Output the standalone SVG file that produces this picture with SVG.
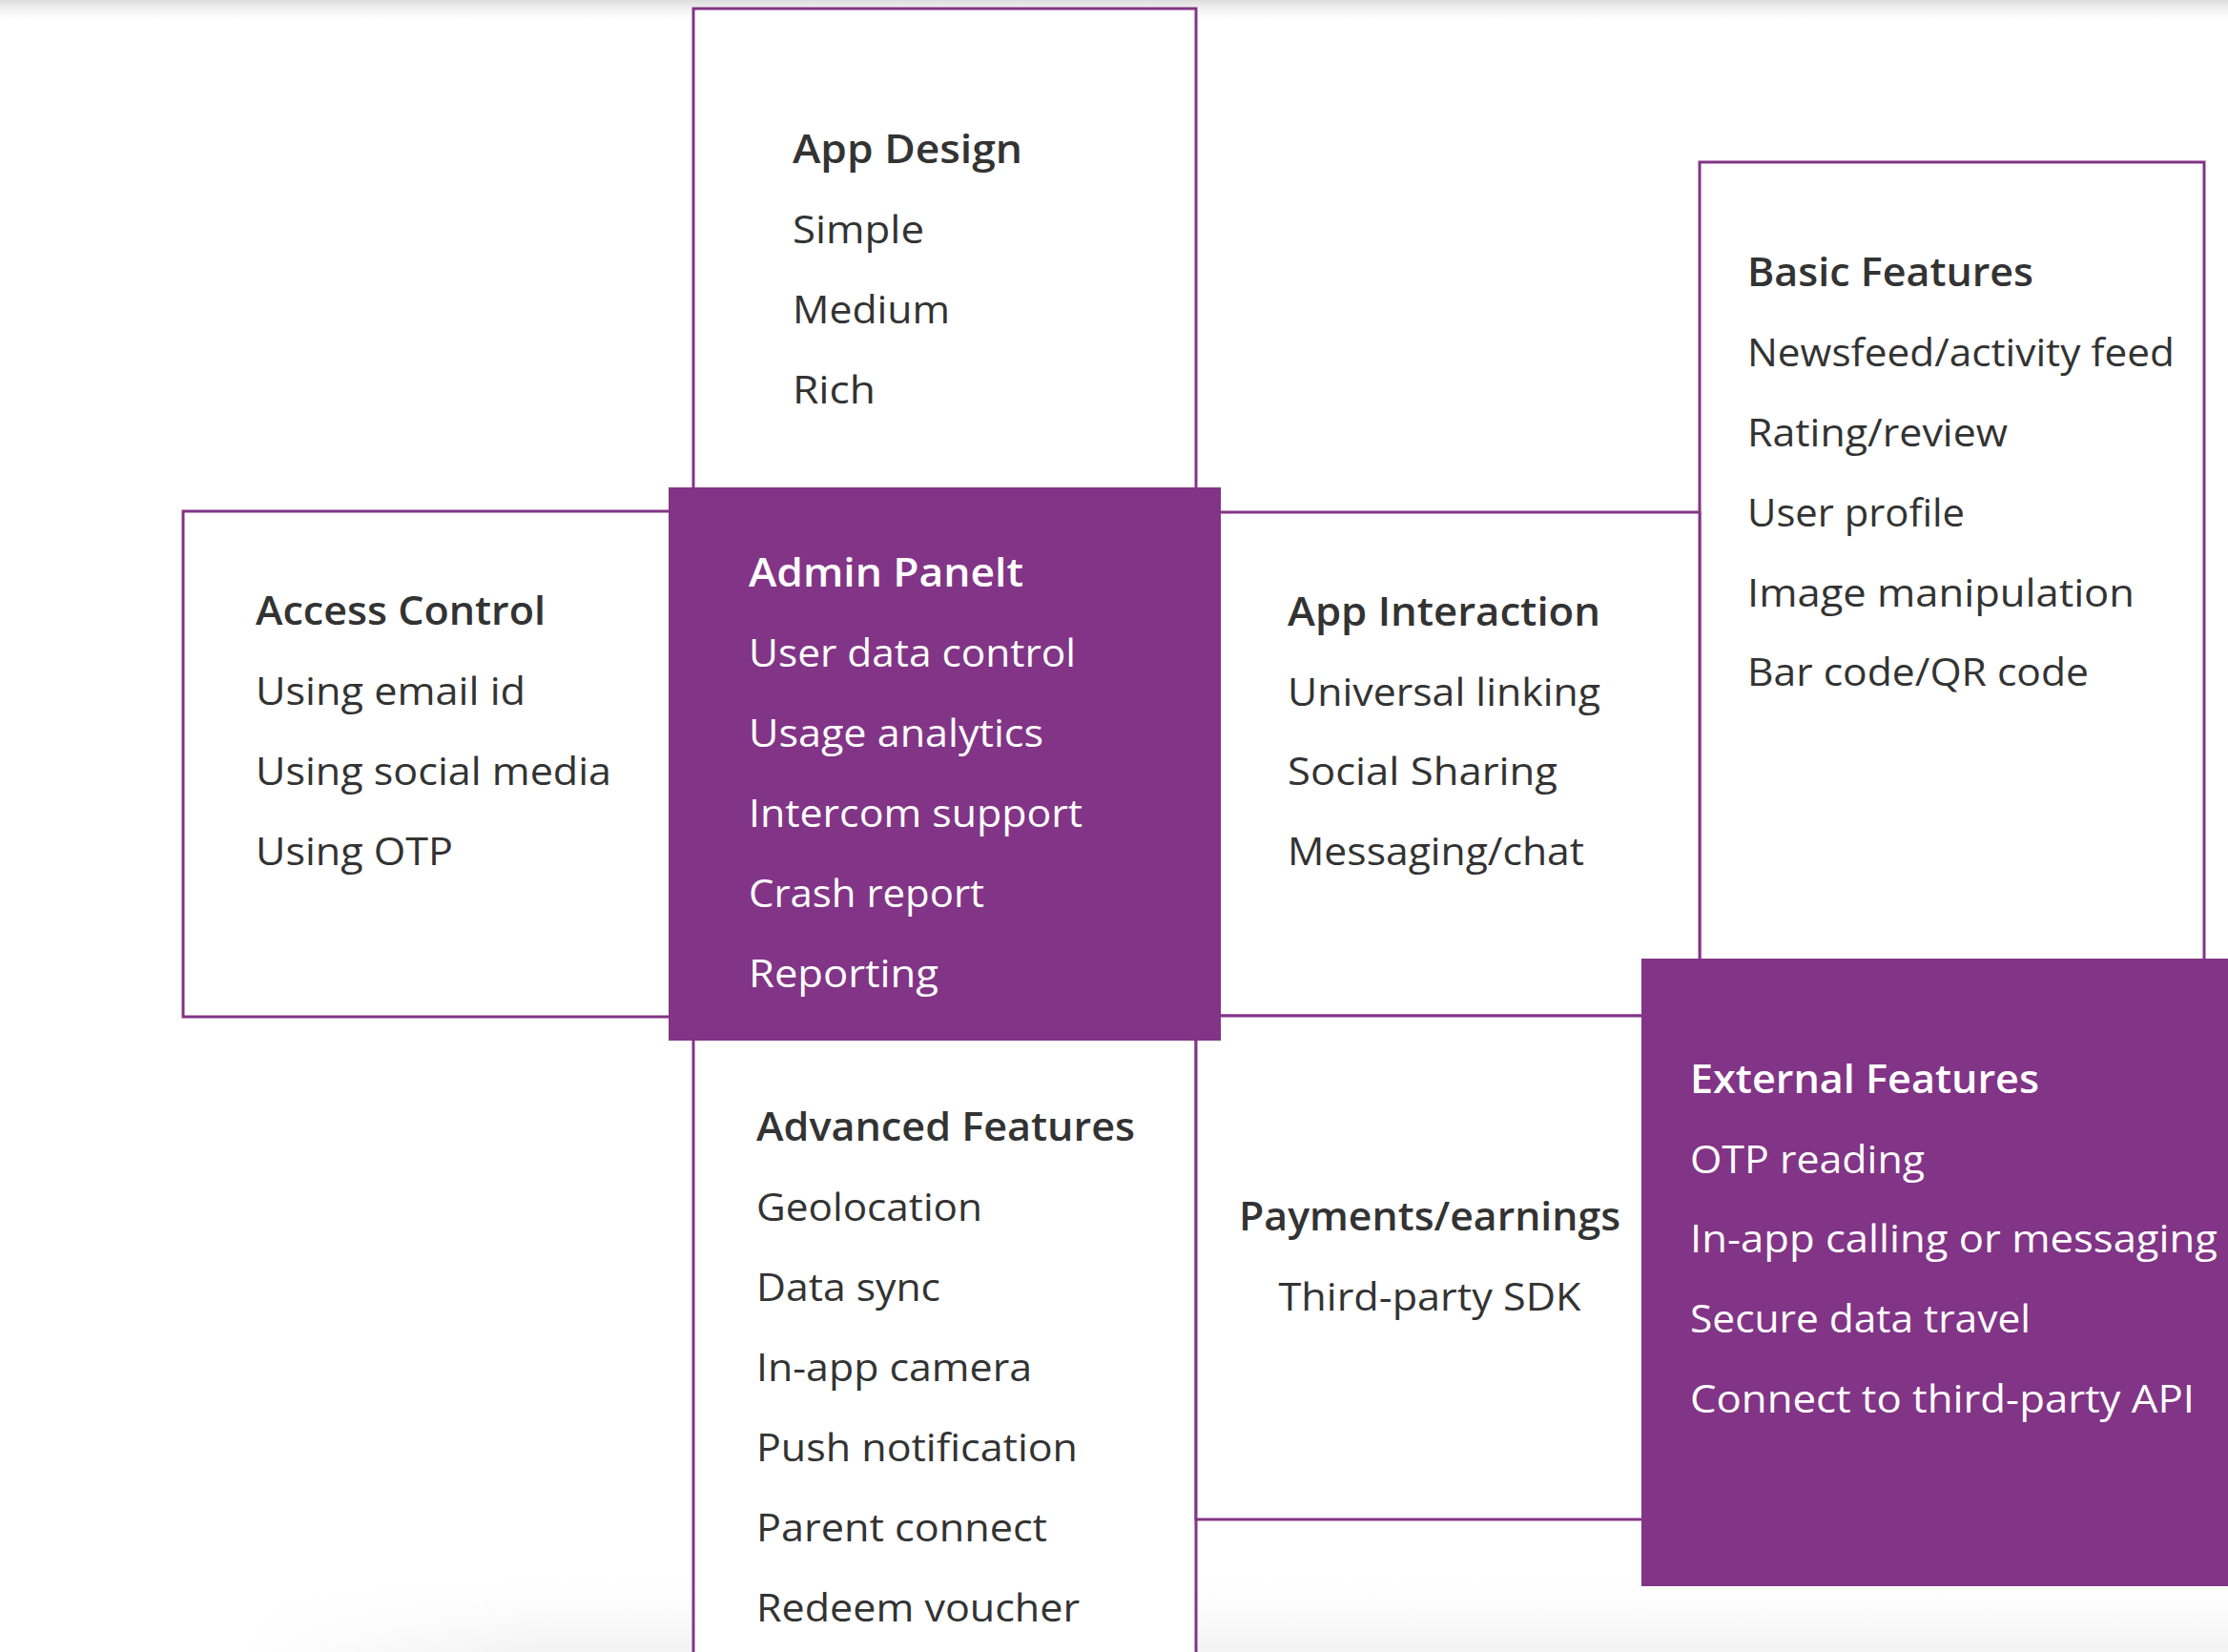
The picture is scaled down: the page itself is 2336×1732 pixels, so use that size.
<svg xmlns="http://www.w3.org/2000/svg" width="2336" height="1732" viewBox="0 0 2336 1732">
<defs>
<linearGradient id="topShade" x1="0" y1="0" x2="0" y2="1">
<stop offset="0" stop-color="#dcdcdc"/>
<stop offset="1" stop-color="#ffffff" stop-opacity="0"/>
</linearGradient>
<linearGradient id="botShade" x1="0" y1="0" x2="0" y2="1">
<stop offset="0" stop-color="#ffffff" stop-opacity="0"/>
<stop offset="1" stop-color="#f2f2f2"/>
</linearGradient>
<linearGradient id="hFade" x1="0" y1="0" x2="1" y2="0">
<stop offset="0" stop-color="#000000"/>
<stop offset="0.15" stop-color="#ffffff"/>
<stop offset="1" stop-color="#ffffff"/>
</linearGradient>
<mask id="botMask">
<rect x="250" y="1640" width="2086" height="92" fill="url(#hFade)"/>
</mask>
<style>
.box{fill:#ffffff;stroke:#823486;stroke-width:3}
.fill{fill:#823486;stroke:none}
.h{font-family:"Open Sans","Liberation Sans",sans-serif;font-size:41px;font-weight:600;fill:#333333}
.t{font-family:"Open Sans","Liberation Sans",sans-serif;font-size:41px;font-weight:400;fill:#333333}
.hw{font-family:"Open Sans","Liberation Sans",sans-serif;font-size:41px;font-weight:600;fill:#ffffff}
.tw{font-family:"Open Sans","Liberation Sans",sans-serif;font-size:41px;font-weight:400;fill:#ffffff}
</style>
</defs>
<rect x="0" y="0" width="2336" height="1732" fill="#ffffff"/>
<rect x="0" y="0" width="2336" height="26" fill="url(#topShade)"/>
<rect x="250" y="1640" width="2086" height="92" fill="url(#botShade)" mask="url(#botMask)"/>

<g id="app-design">
<rect class="box" x="727" y="9" width="527" height="530"/>
<text class="h" x="831" y="171" textLength="241" lengthAdjust="spacingAndGlyphs">App Design</text>
<text class="t" x="831" y="255" textLength="138" lengthAdjust="spacingAndGlyphs">Simple</text>
<text class="t" x="831" y="339" textLength="165" lengthAdjust="spacingAndGlyphs">Medium</text>
<text class="t" x="831" y="423" textLength="87" lengthAdjust="spacingAndGlyphs">Rich</text>
</g>

<g id="advanced-features">
<rect class="box" x="727" y="1080" width="527" height="700"/>
<text class="h" x="793" y="1196" textLength="397" lengthAdjust="spacingAndGlyphs">Advanced Features</text>
<text class="t" x="793" y="1280" textLength="237" lengthAdjust="spacingAndGlyphs">Geolocation</text>
<text class="t" x="793" y="1364" textLength="193" lengthAdjust="spacingAndGlyphs">Data sync</text>
<text class="t" x="793" y="1448" textLength="289" lengthAdjust="spacingAndGlyphs">In-app camera</text>
<text class="t" x="793" y="1532" textLength="337" lengthAdjust="spacingAndGlyphs">Push notification</text>
<text class="t" x="793" y="1616" textLength="305" lengthAdjust="spacingAndGlyphs">Parent connect</text>
<text class="t" x="793" y="1700" textLength="339" lengthAdjust="spacingAndGlyphs">Redeem voucher</text>
</g>

<g id="access-control">
<rect class="box" x="192" y="536" width="540" height="530"/>
<text class="h" x="268" y="655" textLength="304" lengthAdjust="spacingAndGlyphs">Access Control</text>
<text class="t" x="268" y="739" textLength="283" lengthAdjust="spacingAndGlyphs">Using email id</text>
<text class="t" x="268" y="823" textLength="373" lengthAdjust="spacingAndGlyphs">Using social media</text>
<text class="t" x="268" y="907" textLength="207" lengthAdjust="spacingAndGlyphs">Using OTP</text>
</g>

<g id="basic-features">
<rect class="box" x="1782" y="170" width="529" height="860"/>
<text class="h" x="1832" y="300" textLength="300" lengthAdjust="spacingAndGlyphs">Basic Features</text>
<text class="t" x="1832" y="384" textLength="448" lengthAdjust="spacingAndGlyphs">Newsfeed/activity feed</text>
<text class="t" x="1832" y="468" textLength="273" lengthAdjust="spacingAndGlyphs">Rating/review</text>
<text class="t" x="1832" y="552" textLength="228" lengthAdjust="spacingAndGlyphs">User profile</text>
<text class="t" x="1832" y="636" textLength="406" lengthAdjust="spacingAndGlyphs">Image manipulation</text>
<text class="t" x="1832" y="719" textLength="358" lengthAdjust="spacingAndGlyphs">Bar code/QR code</text>
</g>

<g id="app-interaction">
<rect class="box" x="1260" y="537" width="522" height="528"/>
<text class="h" x="1350" y="656" textLength="328" lengthAdjust="spacingAndGlyphs">App Interaction</text>
<text class="t" x="1350" y="740" textLength="328" lengthAdjust="spacingAndGlyphs">Universal linking</text>
<text class="t" x="1350" y="823" textLength="283" lengthAdjust="spacingAndGlyphs">Social Sharing</text>
<text class="t" x="1350" y="907" textLength="311" lengthAdjust="spacingAndGlyphs">Messaging/chat</text>
</g>

<g id="payments">
<rect class="box" x="1254" y="1065" width="480" height="528"/>
<text class="h" x="1499" y="1290" text-anchor="middle" textLength="400" lengthAdjust="spacingAndGlyphs">Payments/earnings</text>
<text class="t" x="1499" y="1374" text-anchor="middle" textLength="317" lengthAdjust="spacingAndGlyphs">Third-party SDK</text>
</g>

<g id="admin-panel">
<rect class="fill" x="701" y="511" width="579" height="580"/>
<text class="hw" x="785" y="615" textLength="288" lengthAdjust="spacingAndGlyphs">Admin Panelt</text>
<text class="tw" x="785" y="699" textLength="343" lengthAdjust="spacingAndGlyphs">User data control</text>
<text class="tw" x="785" y="783" textLength="309" lengthAdjust="spacingAndGlyphs">Usage analytics</text>
<text class="tw" x="785" y="867" textLength="350" lengthAdjust="spacingAndGlyphs">Intercom support</text>
<text class="tw" x="785" y="951" textLength="247" lengthAdjust="spacingAndGlyphs">Crash report</text>
<text class="tw" x="785" y="1035" textLength="199" lengthAdjust="spacingAndGlyphs">Reporting</text>
</g>

<g id="external-features">
<rect class="fill" x="1721" y="1005" width="615" height="658"/>
<text class="hw" x="1772" y="1146" textLength="366" lengthAdjust="spacingAndGlyphs">External Features</text>
<text class="tw" x="1772" y="1230" textLength="246" lengthAdjust="spacingAndGlyphs">OTP reading</text>
<text class="tw" x="1772" y="1313" textLength="553" lengthAdjust="spacingAndGlyphs">In-app calling or messaging</text>
<text class="tw" x="1772" y="1397" textLength="357" lengthAdjust="spacingAndGlyphs">Secure data travel</text>
<text class="tw" x="1772" y="1481" textLength="529" lengthAdjust="spacingAndGlyphs">Connect to third-party API</text>
</g>

<g id="connectors"></g>
</svg>
